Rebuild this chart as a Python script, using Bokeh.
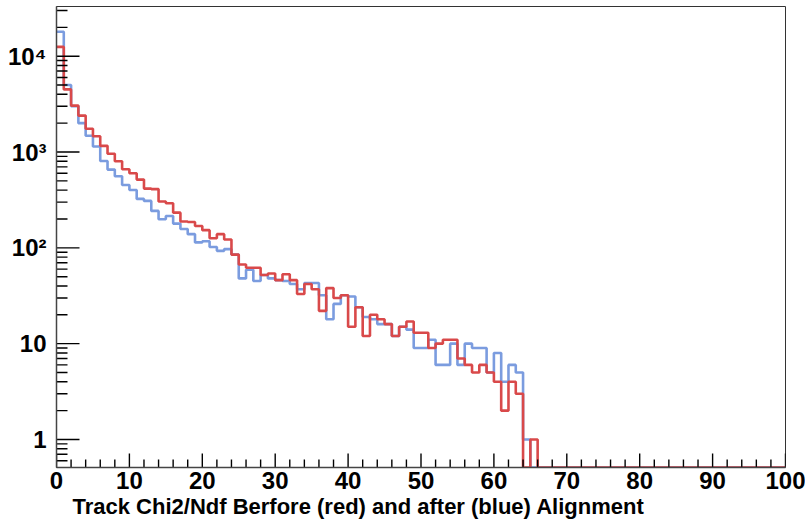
import numpy as np
from bokeh.plotting import figure
from bokeh.models import FixedTicker, Title, Range1d
from bokeh.embed import file_html
from bokeh.resources import INLINE

# Histogram: 100 bins of width 1 between 0 and 100
bin_edges_left = list(range(0, 100))
x_max = 100

red_before = [
    12500, 4500, 3050, 2400, 1750, 1460, 1160, 960, 800, 660,
    600, 515, 415, 410, 304, 292, 233, 188, 186, 169,
    153, 126, 139, 122, 85, 67, 62, 62, 52, 54,
    46, 53, 46, 33, 42, 37, 22, 38, 30, 32,
    15, 24, 12, 20, 18, 16, 12, 15, 17, 13,
    13, 9, 10, 11, 11, 7, 6, 5, 6, 5,
    4, 2, 4, 3, 0, 1, 0, 0, 0, 0,
    0, 0, 0, 0, 0, 0, 0, 0, 0, 0,
    0, 0, 0, 0, 0, 0, 0, 0, 0, 0,
    0, 0, 0, 0, 0, 0, 0, 0, 0, 0,
]

blue_after = [
    18000, 5000, 3000, 2000, 1480, 1140, 805, 655, 558, 453,
    402, 324, 309, 243, 199, 215, 179, 157, 139, 114,
    117, 102, 93, 97, 85, 48, 59, 45, 52, 48,
    46, 45, 42, 37, 43, 43, 32, 18, 26, 32,
    31, 24, 19, 18, 16, 16, 12, 15, 14, 9,
    9, 11, 6, 6, 10, 6, 10, 9, 9, 5,
    8, 4, 6, 5, 1, 0, 0, 0, 0, 0,
    0, 0, 0, 0, 0, 0, 0, 0, 0, 0,
    0, 0, 0, 0, 0, 0, 0, 0, 0, 0,
    0, 0, 0, 0, 0, 0, 0, 0, 0, 0,
]

x_major = [0, 10, 20, 30, 40, 50, 60, 70, 80, 90, 100]
x_minor = [2, 4, 6, 8, 12, 14, 16, 18, 22, 24, 26, 28, 32, 34, 36, 38,
           42, 44, 46, 48, 52, 54, 56, 58, 62, 64, 66, 68, 72, 74, 76, 78,
           82, 84, 86, 88, 92, 94, 96, 98]
y_major = [1, 10, 100, 1000, 10000]
y_labels = {1: "1", 10: "10", 100: "10\u00b2", 1000: "10\u00b3", 10000: "10\u2074"}
title_text = "Track Chi2/Ndf Berfore (red) and after (blue) Alignment"

y_start, y_end = 0.51, 33000
W, H = 805, 524
B_LEFT, B_RIGHT, B_TOP, B_BOTTOM = 56, 20, 6, 57

p = figure(width=W, height=H, y_axis_type="log",
           x_range=Range1d(0, x_max), y_range=Range1d(y_start, y_end),
           output_backend="svg", toolbar_location=None,
           min_border_left=B_LEFT, min_border_right=B_RIGHT,
           min_border_top=B_TOP, min_border_bottom=B_BOTTOM)
p.xgrid.visible = False
p.ygrid.visible = False
p.background_fill_color = "white"
p.border_fill_color = "white"
p.outline_line_color = "#333333"
p.outline_line_width = 1

frame_w = W - B_LEFT - B_RIGHT
frame_h = H - B_TOP - B_BOTTOM
px_per_x = frame_w / x_max
px_per_decade = frame_h / (np.log10(y_end) - np.log10(y_start))

minor_y = [m * 10.0 ** k for k in range(-1, 5) for m in range(2, 10)]
minor_y = [t for t in minor_y if y_start <= t <= y_end]


def step_xy(vals):
    xs = np.append(np.array(bin_edges_left, dtype=float), x_max)
    v = np.array(vals, dtype=float)
    v = np.where(v > 0, v, y_start)
    ys = np.append(v, v[-1])
    return xs, ys


bx, by = step_xy(blue_after)
rx, ry = step_xy(red_before)
p.step(bx, by, mode="after", line_color="#7b9cdf", line_width=2.6)
p.step(rx, ry, mode="after", line_color="#d9494a", line_width=2.6)

# inward tick marks (ROOT style): one broken polyline, NaN between ticks
tx, ty = [], []
for ticks, length_px in ((x_major, 14), (x_minor, 8)):
    y1 = y_start * 10 ** (length_px / px_per_decade)
    for t in ticks:
        tx += [float(t), float(t), np.nan]
        ty += [y_start * 1.001, y1, np.nan]
for ticks, length_px in ((y_major, 23), (minor_y, 11)):
    x1 = length_px / px_per_x
    for t in ticks:
        tx += [0.05, x1, np.nan]
        ty += [float(t), float(t), np.nan]
p.line(np.array(tx), np.array(ty), line_color="black", line_width=1.4)

font = "Liberation Sans"

xa = p.xaxis[0]
xa.ticker = FixedTicker(ticks=x_major, minor_ticks=x_minor)
xa.major_tick_in = 0
xa.major_tick_out = 0
xa.minor_tick_in = 0
xa.minor_tick_out = 0
xa.major_label_text_font = font
xa.major_label_text_font_style = "bold"
xa.major_label_text_font_size = "24px"
xa.major_label_text_color = "black"
xa.major_label_standoff = 4
xa.axis_line_color = "#444444"
xa.axis_line_width = 1.5

ya = p.yaxis[0]
ya.ticker = FixedTicker(ticks=y_major, minor_ticks=minor_y)
ya.major_label_overrides = y_labels
ya.major_tick_in = 0
ya.major_tick_out = 0
ya.minor_tick_in = 0
ya.minor_tick_out = 0
ya.major_label_text_font = font
ya.major_label_text_font_style = "bold"
ya.major_label_text_font_size = "24px"
ya.major_label_text_color = "black"
ya.major_label_standoff = 10
ya.axis_line_color = "#444444"
ya.axis_line_width = 1.5

t = Title(text=title_text, align="left", offset=16, standoff=0,
          text_font=font, text_font_style="bold", text_font_size="22px",
          text_color="black")
p.add_layout(t, "below")

open("out.html", "w").write(file_html(p, INLINE))
